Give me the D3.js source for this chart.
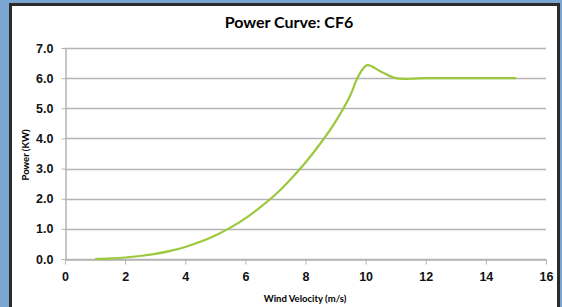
<!DOCTYPE html>
<html>
<head>
<meta charset="utf-8">
<script src="https://cdn.jsdelivr.net/npm/d3@7"></script>
<style>
  body { margin: 0; background: #7ba6d3; }
  svg { display: block; }
</style>
</head>
<body>
<div id="chart"></div>
<script>
// wind speed (m/s) and power (KW)
var windSpeed = [1, 1.5, 2, 2.5, 3, 3.5, 4, 4.5, 5, 5.5, 6, 6.5, 7, 7.5, 8, 8.5, 9, 9.5, 9.75, 10.05, 10.5, 11, 11.5, 12, 13, 14, 15];
var power     = [0, 0.02, 0.05, 0.1, 0.17, 0.27, 0.4, 0.57, 0.78, 1.04, 1.35, 1.72, 2.14, 2.64, 3.2, 3.84, 4.56, 5.45, 6.05, 6.43, 6.22, 6.0, 5.98, 6.0, 6.0, 6.0, 6.0];
var xTicks = [0, 2, 4, 6, 8, 10, 12, 14, 16];
var yTicks = [0, 1, 2, 3, 4, 5, 6, 7];

var W = 562, H = 307;
var margin = { top: 48, right: 16, bottom: 48, left: 65 };

var svg = d3.select("#chart").append("svg")
  .attr("width", W).attr("height", H);

// white panel with dark frame
svg.append("rect")
  .attr("x", 10.5).attr("y", 4.5)
  .attr("width", 548).attr("height", 310)
  .attr("fill", "#fff")
  .attr("stroke", "#2b2b2b")
  .attr("stroke-width", 3);

var x = d3.scaleLinear().domain([0, 16]).range([margin.left, W - margin.right]);
var y = d3.scaleLinear().domain([0, 7]).range([H - margin.bottom, margin.top]);

// gridlines
svg.append("g").selectAll("line")
  .data(yTicks)
  .enter().append("line")
  .attr("x1", x(0)).attr("x2", x(16))
  .attr("y1", function(d) { return Math.round(y(d)) + 0.5; })
  .attr("y2", function(d) { return Math.round(y(d)) + 0.5; })
  .attr("stroke", "#b4b4b4")
  .attr("stroke-width", 1.5);

// y axis
var yAxis = svg.append("g")
  .attr("transform", "translate(" + (x(0) + 0.5) + ",0)")
  .call(d3.axisLeft(y).tickValues(yTicks).tickFormat(d3.format(".1f")).tickSize(4).tickSizeOuter(0).tickPadding(8));

// x axis
var xAxis = svg.append("g")
  .attr("transform", "translate(0," + (Math.round(y(0)) + 0.5) + ")")
  .call(d3.axisBottom(x).tickValues(xTicks).tickSize(5).tickSizeOuter(0).tickPadding(8));

[yAxis, xAxis].forEach(function(ax) {
  ax.select(".domain").attr("stroke", "#b4b4b4").attr("stroke-width", 1.5);
  ax.selectAll(".tick line").attr("stroke", "#b4b4b4");
  ax.selectAll("text")
    .attr("fill", "#111")
    .style("font-family", "'Liberation Sans', Arial, sans-serif")
    .style("font-weight", "bold")
    .style("font-size", "12.5px");
});

// the curve
var line = d3.line()
  .x(function(d, i) { return x(windSpeed[i]); })
  .y(function(d) { return y(d); })
  .curve(d3.curveCatmullRom.alpha(0.5));

svg.append("path")
  .datum(power)
  .attr("d", line)
  .attr("fill", "none")
  .attr("stroke", "#9bc83c")
  .attr("stroke-width", 2.2);

// titles
svg.append("text")
  .attr("x", 289).attr("y", 28)
  .attr("text-anchor", "middle")
  .style("font-family", "Lato, 'Open Sans', sans-serif")
  .style("font-weight", "bold")
  .style("font-size", "16px")
  .text("Power Curve: CF6");

svg.append("text")
  .attr("x", 305).attr("y", 302)
  .attr("text-anchor", "middle")
  .style("font-family", "Lato, 'Open Sans', sans-serif")
  .style("font-weight", "bold")
  .style("font-size", "9.5px")
  .text("Wind Velocity (m/s)");

svg.append("text")
  .attr("transform", "translate(29,155) rotate(-90)")
  .attr("text-anchor", "middle")
  .style("font-family", "Lato, 'Open Sans', sans-serif")
  .style("font-weight", "bold")
  .style("font-size", "9.5px")
  .text("Power (KW)");
</script>
</body>
</html>
